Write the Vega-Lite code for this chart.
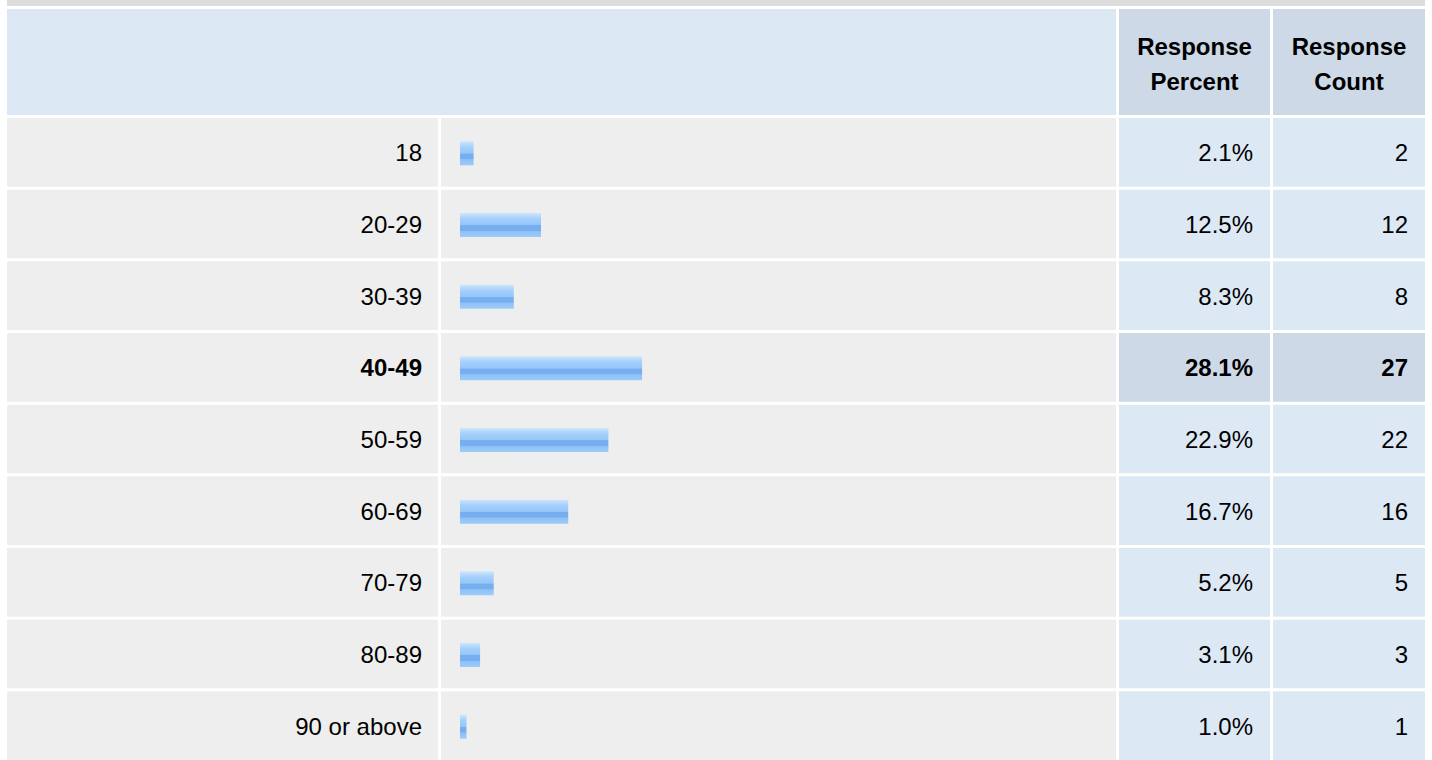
{
  "$schema": "https://vega.github.io/schema/vega-lite/v6.json",
  "padding": {"left": 7, "right": 7, "top": 0, "bottom": 0},
  "background": "white",
  "spacing": 3,
  "config": {
    "view": {"stroke": null},
    "concat": {"spacing": 3},
    "text": {"font": "Liberation Sans", "fontSize": 24, "color": "#000000"}
  },
  "datasets": {
    "rows": [
      {"age": "18", "percent": 0.021, "count": 2},
      {"age": "20-29", "percent": 0.125, "count": 12},
      {"age": "30-39", "percent": 0.083, "count": 8},
      {"age": "40-49", "percent": 0.281, "count": 27},
      {"age": "50-59", "percent": 0.229, "count": 22},
      {"age": "60-69", "percent": 0.167, "count": 16},
      {"age": "70-79", "percent": 0.052, "count": 5},
      {"age": "80-89", "percent": 0.031, "count": 3},
      {"age": "90 or above", "percent": 0.010, "count": 1}
    ]
  },
  "vconcat": [
    {
      "width": 1418, "height": 6,
      "data": {"values": [{"k": 1}]},
      "mark": {"type": "rect", "color": "#dcdcdc"},
      "encoding": {}
    },
    {
      "spacing": 3,
      "hconcat": [
        {
          "width": 1109, "height": 106,
          "data": {"values": [{"k": 1}]},
          "mark": {"type": "rect", "color": "#dde8f5"},
          "encoding": {}
        },
        {
          "width": 151, "height": 106,
          "data": {"values": [{"h": "Response\nPercent"}]},
          "layer": [
            {"mark": {"type": "rect", "color": "#cdd9e7"}, "encoding": {}},
            {"mark": {"type": "text", "fontWeight": "bold", "fontSize": 24, "lineBreak": "\n", "lineHeight": 35, "align": "center", "baseline": "middle", "dy": -14},
             "encoding": {"text": {"field": "h"}}}
          ]
        },
        {
          "width": 152, "height": 106,
          "data": {"values": [{"h": "Response\nCount"}]},
          "layer": [
            {"mark": {"type": "rect", "color": "#cdd9e7"}, "encoding": {}},
            {"mark": {"type": "text", "fontWeight": "bold", "fontSize": 24, "lineBreak": "\n", "lineHeight": 35, "align": "center", "baseline": "middle", "dy": -14},
             "encoding": {"text": {"field": "h"}}}
          ]
        }
      ]
    },
    {
      "spacing": 3,
      "data": {"name": "rows"},
      "transform": [{"joinaggregate": [{"op": "max", "field": "count", "as": "maxCount"}]}],
      "hconcat": [
        {
          "width": 431, "height": 642,
          "encoding": {
            "y": {"field": "age", "type": "ordinal", "sort": null, "axis": null,
                  "scale": {"paddingInner": 0.0417, "paddingOuter": 0}}
          },
          "layer": [
            {"mark": {"type": "rect", "color": "#eeeeee"}},
            {"transform": [{"filter": "datum.count < datum.maxCount"}],
             "mark": {"type": "text", "align": "right", "baseline": "alphabetic", "dy": 9, "dx": -16},
             "encoding": {"x": {"value": "width"}, "text": {"field": "age"}}},
            {"transform": [{"filter": "datum.count === datum.maxCount"}],
             "mark": {"type": "text", "align": "right", "baseline": "alphabetic", "dy": 9, "dx": -16, "fontWeight": "bold"},
             "encoding": {"x": {"value": "width"}, "text": {"field": "age"}}}
          ]
        },
        {
          "width": 675, "height": 642,
          "encoding": {
            "y": {"field": "age", "type": "ordinal", "sort": null, "axis": null,
                  "scale": {"paddingInner": 0.0417, "paddingOuter": 0}}
          },
          "layer": [
            {"mark": {"type": "rect", "color": "#eeeeee"}},
            {"mark": {"type": "bar", "height": 24, "yOffset": 1,
                      "color": {"gradient": "linear", "x1": 0, "y1": 0, "x2": 0, "y2": 1,
                                "stops": [
                                  {"offset": 0, "color": "#cfe6fd"},
                                  {"offset": 0.12, "color": "#b8dafc"},
                                  {"offset": 0.25, "color": "#a3cffb"},
                                  {"offset": 0.5, "color": "#95c6f9"},
                                  {"offset": 0.52, "color": "#76aeef"},
                                  {"offset": 0.73, "color": "#76aeef"},
                                  {"offset": 0.76, "color": "#8dc1f7"},
                                  {"offset": 1, "color": "#9ccbf9"}
                                ]}},
             "encoding": {
               "x": {"field": "percent", "type": "quantitative", "axis": null,
                     "scale": {"domain": [0, 1], "range": [19, 667], "nice": false}}
             }}
          ]
        },
        {
          "width": 151, "height": 642,
          "encoding": {
            "y": {"field": "age", "type": "ordinal", "sort": null, "axis": null,
                  "scale": {"paddingInner": 0.0417, "paddingOuter": 0}}
          },
          "layer": [
            {"mark": {"type": "rect"},
             "encoding": {"color": {"condition": {"test": "datum.count === datum.maxCount", "value": "#cdd9e7"}, "value": "#dde8f5"}}},
            {"transform": [{"filter": "datum.count < datum.maxCount"}],
             "mark": {"type": "text", "align": "right", "baseline": "alphabetic", "dy": 9, "dx": -17},
             "encoding": {"x": {"value": "width"}, "text": {"field": "percent", "type": "quantitative", "format": ".1%"}}},
            {"transform": [{"filter": "datum.count === datum.maxCount"}],
             "mark": {"type": "text", "align": "right", "baseline": "alphabetic", "dy": 9, "dx": -17, "fontWeight": "bold"},
             "encoding": {"x": {"value": "width"}, "text": {"field": "percent", "type": "quantitative", "format": ".1%"}}}
          ]
        },
        {
          "width": 152, "height": 642,
          "encoding": {
            "y": {"field": "age", "type": "ordinal", "sort": null, "axis": null,
                  "scale": {"paddingInner": 0.0417, "paddingOuter": 0}}
          },
          "layer": [
            {"mark": {"type": "rect"},
             "encoding": {"color": {"condition": {"test": "datum.count === datum.maxCount", "value": "#cdd9e7"}, "value": "#dde8f5"}}},
            {"transform": [{"filter": "datum.count < datum.maxCount"}],
             "mark": {"type": "text", "align": "right", "baseline": "alphabetic", "dy": 9, "dx": -17},
             "encoding": {"x": {"value": "width"}, "text": {"field": "count", "type": "quantitative"}}},
            {"transform": [{"filter": "datum.count === datum.maxCount"}],
             "mark": {"type": "text", "align": "right", "baseline": "alphabetic", "dy": 9, "dx": -17, "fontWeight": "bold"},
             "encoding": {"x": {"value": "width"}, "text": {"field": "count", "type": "quantitative"}}}
          ]
        }
      ]
    }
  ]
}
